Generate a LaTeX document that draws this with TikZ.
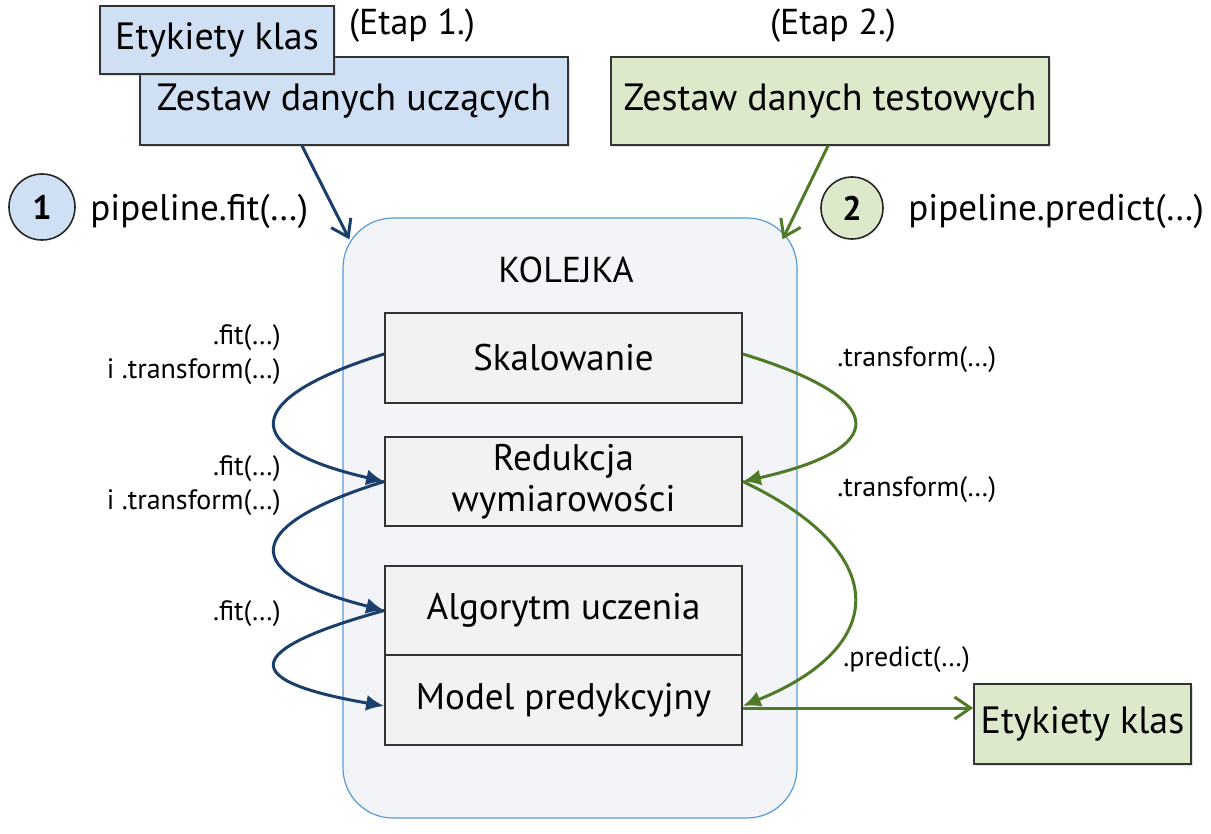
\documentclass[tikz,border=0pt]{standalone}
\usepackage{fontspec}
\setmainfont{PT Sans}
\usetikzlibrary{arrows.meta,shadows}

\definecolor{blueFill}{HTML}{CFE0F4}
\definecolor{greenFill}{HTML}{DCE9CA}
\definecolor{navy}{HTML}{1B3F6B}
\definecolor{olive}{HTML}{4F7A28}
\definecolor{queueLine}{HTML}{5B9BD5}
\definecolor{queueFill}{HTML}{F2F4F7}

\tikzset{
  databox/.style={draw=black!80, line width=0.8pt, inner sep=0pt,
    drop shadow={opacity=0.25, shadow xshift=1pt, shadow yshift=-1pt},
    font=\fontsize{19}{22}\selectfont},
  stagebox/.style={draw=black!80, line width=0.8pt, fill=white!95!black, inner sep=0pt,
    minimum width=178.5pt, align=center, font=\fontsize{18.5}{20.5}\selectfont},
  stepnum/.style={circle, draw=black!85, line width=0.8pt, minimum size=32pt, inner sep=0pt,
    font=\fontsize{17}{20}\selectfont\bfseries},
  methodlbl/.style={font=\fontsize{14}{17}\selectfont, inner sep=0pt},
  calllbl/.style={anchor=west, inner sep=0pt, font=\fontsize{18.5}{22}\selectfont},
  bluearrow/.style={draw=navy, line width=1.5pt, -{Latex[length=9pt,width=8pt]}},
  greenarrow/.style={draw=olive, line width=1.5pt, -{Latex[length=9pt,width=8pt]}},
}

\begin{document}
\begin{tikzpicture}[x=0.5pt,y=-0.5pt]
		\useasboundingbox (0,0) rectangle (1211,834);

		% the queue
		\node[draw=queueLine, line width=0.6pt, fill=queueFill, rounded corners=25pt,
		  minimum width=227pt, minimum height=300pt] (kol) at (570,518) {};
		\node[font=\fontsize{18}{21}\selectfont] (kolLbl) at (566,270) {KOLEJKA};

		% the input data sets
		\node[databox, fill=blueFill, minimum width=214pt, minimum height=44pt] (zest1) at (354,101) {Zestaw danych uczących};
		\node[databox, fill=blueFill, minimum width=117pt, minimum height=34pt] (etyk1) at (217,40) {Etykiety klas};
		\node[databox, fill=greenFill, minimum width=219pt, minimum height=44pt] (zest2) at (830,101) {Zestaw danych testowych};
		\node[font=\fontsize{18}{21}\selectfont] (etap1) at (412,26) {(Etap 1.)};
		\node[font=\fontsize{18}{21}\selectfont] (etap2) at (833,26) {(Etap 2.)};

		% the numbered calls
		\node[stepnum, fill=blueFill, minimum size=33pt] (num1) at (42,207) {1};
		\node[calllbl] (fitLbl) at (90,211) {pipeline.fit(…)};
		\node[stepnum, fill=greenFill, minimum size=31pt] (num2) at (852,208) {2};
		\node[calllbl] (predLbl) at (908,211) {pipeline.predict(…)};

		% the stages
		\node[stagebox, minimum height=45pt] (skal) at (563.5,358) {Skalowanie};
		\node[stagebox, minimum height=44.5pt] (red) at (563.5,481.5) {Redukcja\\wymiarowości};
		\node[stagebox, minimum height=44.5pt] (alg) at (563.5,610.5) {Algorytm uczenia};
		\node[stagebox, minimum height=45pt] (model) at (563.5,700) {Model predykcyjny};
		\node[databox, fill=greenFill, minimum width=108.5pt, minimum height=40pt] (etyk2) at (1082.5,724) {Etykiety klas};

		% the method labels
		\node[methodlbl, anchor=east, align=right] (fit1) at (281,355) {.fit(…)\\i .transform(…)};
		\node[methodlbl, anchor=east, align=right] (fit2) at (281,486) {.fit(…)\\i .transform(…)};
		\node[methodlbl, anchor=east] (fit3) at (281,614) {.fit(…)};
		\node[methodlbl, anchor=west] (tr1) at (837,360) {.transform(…)};
		\node[methodlbl, anchor=west] (tr2) at (837,490) {.transform(…)};
		\node[methodlbl, anchor=west] (pr1) at (843,660) {.predict(…)};

		% arrows into the queue
		\draw[navy, line width=1.5pt, -{Straight Barb[length=8pt,width=11pt]}] ([xshift=-26pt]zest1.south) -- ([shift={(7,22)}]kol.north west);
		\draw[olive, line width=1.5pt, -{Straight Barb[length=8pt,width=11pt]}] ([xshift=-1pt]zest2.south) -- ([shift={(-15,22)}]kol.north east);

		% the fit path
		\draw[bluearrow] ([yshift=2pt]skal.west) .. controls +(-145,45) and +(-145,-33) .. (red.west);
		\draw[bluearrow] (red.west) .. controls +(-145,45) and +(-145,-37) .. (alg.west);
		\draw[bluearrow] (alg.west) .. controls +(-145,40) and +(-145,-25) .. ([yshift=-3pt]model.west);

		% the predict path
		\draw[greenarrow] ([yshift=2pt]skal.east) .. controls +(148,45) and +(148,-33) .. (red.east);
		\draw[greenarrow] (red.east) .. controls +(148,70) and +(148,-60) .. ([yshift=-3pt]model.east);
		\draw[olive, line width=1.5pt, -{Straight Barb[length=8pt,width=11pt]}] ([yshift=-4pt]model.east) -- ([yshift=-4pt]model.east -| etyk2.west);

	\end{tikzpicture}
\end{document}
